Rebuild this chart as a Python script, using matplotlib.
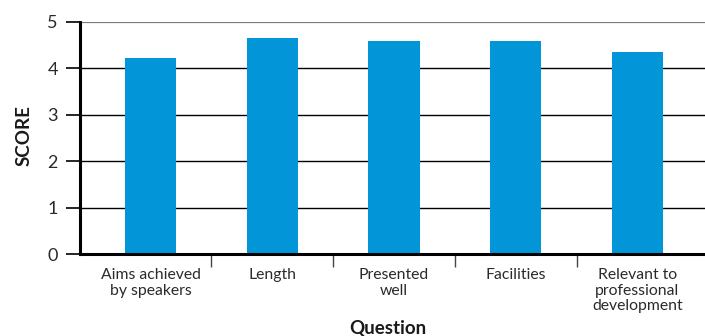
import matplotlib
matplotlib.use("Agg")
import matplotlib.pyplot as plt
from matplotlib.ticker import FixedLocator

categories = ["Aims achieved\nby speakers", "Length", "Presented\nwell", "Facilities",
              "Relevant to\nprofessional\ndevelopment"]
scores = [4.22, 4.65, 4.59, 4.59, 4.35]
y_ticks = [0, 1, 2, 3, 4, 5]

plt.rcParams['font.family'] = ['Lato', 'DejaVu Sans']

fig = plt.figure(figsize=(7.05, 3.36), dpi=100)
ax = fig.add_axes([80/705, (336-254.3)/336, 1 - 80/705, (254.3-22)/336])

x = list(range(len(categories)))
ax.bar(x, scores, width=0.42, color='#0296d9', zorder=3)

ax.set_ylim(0, 5)
ax.set_xlim(-0.58, 4.555)
ax.set_yticks(y_ticks)
ax.set_yticklabels([str(t) for t in y_ticks], fontsize=13, color='#2a2a2a')
for t in y_ticks[1:-1]:
    ax.axhline(t, color='black', lw=1.0, zorder=1)
ax.axhline(5, color='#7a7a7a', lw=1.6, zorder=1)

ax.set_xticks(x)
ax.set_xticklabels(categories, fontsize=11.3, color='#2a2a2a', linespacing=1.15)
ax.tick_params(axis='x', which='major', length=0, pad=10)
ax.xaxis.set_minor_locator(FixedLocator([0.5, 1.5, 2.5, 3.5]))
ax.tick_params(axis='x', which='minor', length=9, width=1, color='#444444', direction='out')
ax.tick_params(axis='y', length=10, width=1.2, pad=6, color='black')

for s in ['top', 'right']:
    ax.spines[s].set_visible(False)
ax.spines['left'].set_linewidth(2.2)
ax.spines['bottom'].set_linewidth(2.2)
ax.spines['left'].set_zorder(4)
ax.spines['bottom'].set_zorder(4)

fig.text(24/705, 1 - 136/336, "SCORE", rotation=90, ha='center', va='center',
         fontsize=13.5, fontweight='bold', color='#1a1a1a')
fig.text(388/705, 1 - 328/336, "Question", ha='center', va='center',
         fontsize=13.5, fontweight='bold', color='#1a1a1a')

fig.savefig("out.png", dpi=100)
